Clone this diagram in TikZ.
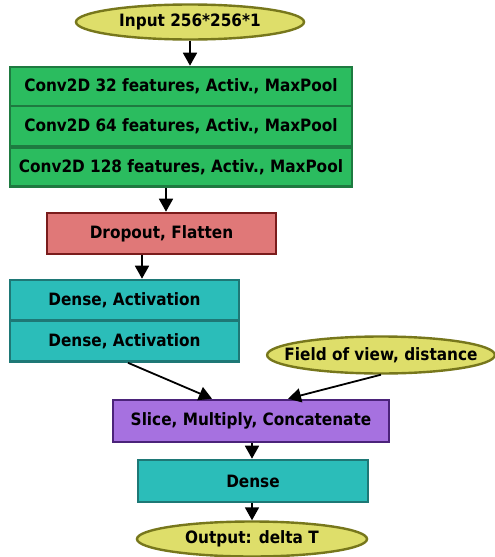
\documentclass[tikz,border=0pt]{standalone}
\usepackage{fontspec}
\setmainfont{DejaVu Sans Condensed}
\usetikzlibrary{arrows.meta}
\usetikzlibrary{shapes.geometric}
\definecolor{convfill}{HTML}{2BBC5F}
\definecolor{convline}{HTML}{1E7A40}
\definecolor{dropfill}{HTML}{E07878}
\definecolor{dropline}{HTML}{7A1C1C}
\definecolor{densefill}{HTML}{2BBDB9}
\definecolor{denseline}{HTML}{1E7876}
\definecolor{iofill}{HTML}{DEDE6A}
\definecolor{ioline}{HTML}{77771C}
\definecolor{slicefill}{HTML}{A671E0}
\definecolor{sliceline}{HTML}{4B237A}
\tikzset{>={Triangle[length=13pt,width=14pt]}}

\begin{document}
\begin{tikzpicture}[x=1pt,y=-1pt,font=\fontsize{17}{20}\selectfont\bfseries,
	layer/.style={draw,line width=2.6pt,inner sep=0pt},
	io/.style={draw=ioline,fill=iofill,ellipse,line width=2.4pt,inner xsep=-16pt,inner ysep=0pt},
	flow/.style={->,line width=1.8pt}]
	\useasboundingbox (0,0) rectangle (495,557);
	\node[io,minimum width=228pt,minimum height=35pt] (input) at (190,22) {Input 256*256*1};
	\node[layer,draw=convline,fill=convfill,minimum width=342pt,minimum height=39pt] (conv1) at (181,86.5) {Conv2D 32 features, Activ., MaxPool};
	\node[layer,draw=convline,fill=convfill,minimum width=342pt,minimum height=40pt] (conv2) at (181,126) {Conv2D 64 features, Activ., MaxPool};
	\node[layer,draw=convline,fill=convfill,minimum width=342pt,minimum height=39pt] (conv3) at (181,167) {Conv2D 128 features, Activ., MaxPool};
	\node[layer,draw=dropline,fill=dropfill,minimum width=229pt,minimum height=41pt] (drop) at (161.5,233.5) {Dropout, Flatten};
	\node[layer,draw=denseline,fill=densefill,minimum width=229pt,minimum height=40pt] (dense1) at (124.5,300) {Dense, Activation};
	\node[layer,draw=denseline,fill=densefill,minimum width=229pt,minimum height=41pt] (dense2) at (124.5,341) {Dense, Activation};
	\node[io,minimum width=226pt,minimum height=37pt] (fov) at (381,355) {Field of view, distance};
	\node[layer,draw=sliceline,fill=slicefill,minimum width=276pt,minimum height=42pt] (slice) at (251,421) {Slice, Multiply, Concatenate};
	\node[layer,draw=denseline,fill=densefill,minimum width=230pt,minimum height=42pt] (dense3) at (253,481) {Dense};
	\node[io,minimum width=230pt,minimum height=35pt] (output) at (252,539) {Output: delta T};
	% arrows
	\draw[flow] (input) -- (input |- conv1.north);
	\draw[flow] ([xshift=-15pt]conv3.south) -- ([xshift=-15pt]conv3.south |- drop.north);
	\draw[flow] ([xshift=-19.5pt]drop.south) -- ([xshift=-19.5pt]drop.south |- dense1.north);
	\draw[flow] ([xshift=3.5pt]dense2.south) -- ([xshift=-39pt]slice.north);
	\draw[flow] (fov.south) -- ([xshift=37pt]slice.north);
	\draw[flow] ([xshift=1pt]slice.south) -- ([xshift=1pt]slice.south |- dense3.north);
	\draw[flow] ([xshift=-1pt]dense3.south) -- (output);
\end{tikzpicture}
\end{document}
